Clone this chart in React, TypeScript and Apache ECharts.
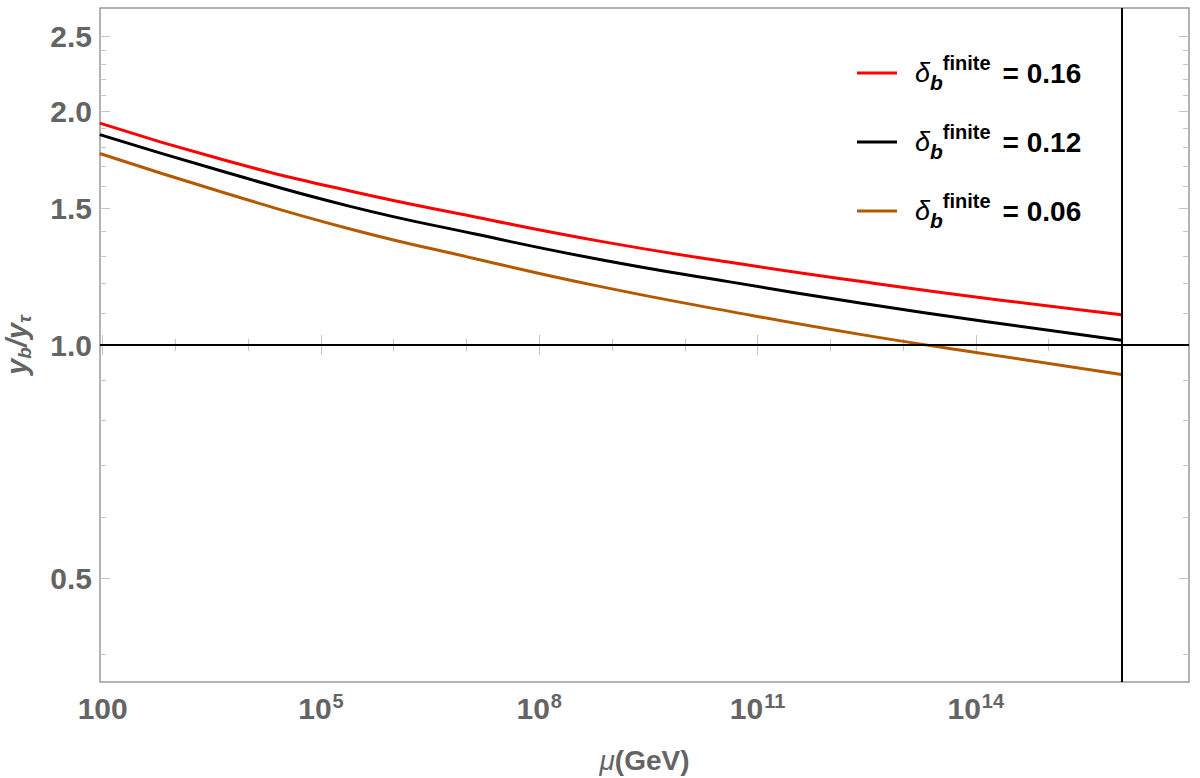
import React, { useEffect, useRef } from "react";
import * as echarts from "echarts";

// Renormalisation scale, log10(mu / GeV)
const LOG_MU = [1.96, 3.68, 5.4, 7.12, 8.83, 10.62, 12.41, 14.13, 16.0];

// y_b / y_tau for each finite threshold correction
const RATIO_016 = [1.932, 1.73, 1.579, 1.462, 1.361, 1.278, 1.208, 1.149, 1.094];
const RATIO_012 = [1.867, 1.671, 1.509, 1.39, 1.289, 1.206, 1.133, 1.072, 1.014];
const RATIO_006 = [1.765, 1.57, 1.411, 1.292, 1.19, 1.105, 1.032, 0.974, 0.916];

const SERIES_NAMES = ["0.16", "0.12", "0.06"];
const SERIES_COLORS = ["#ff0000", "#000000", "#b35900"];

// Plot range
const X_MIN = 1.963;
const X_MAX = 16.93;
const Y_MIN = 1 / Math.E;
const Y_MAX = Math.E;

// Tick positions
const X_MAJOR = [2, 5, 8, 11, 14];
const X_MINOR = [3, 4, 6, 7, 9, 10, 12, 13, 15, 16];
const Y_MAJOR = [0.5, 1.0, 1.5, 2.0, 2.5];
const Y_MINOR = [0.4, 0.6, 0.7, 0.8, 0.9, 1.1, 1.2, 1.3, 1.4, 1.6, 1.7, 1.8, 1.9, 2.1, 2.2, 2.3, 2.4];

// Reference lines
const UNIFICATION_LOG_MU = 16;
const UNITY_RATIO = 1;

const FONT = "'Liberation Sans', Arial, sans-serif";
const LABEL_GRAY = "#646464";
const TICK_GRAY = "#c4c4c4";
const FRAME_GRAY = "#9a9a9a";

const lg = (v: number) => Math.log10(v);

function xAxisDef(position: "top" | "bottom", ticks: number[], length: number, withLabels: boolean) {
  return {
    type: "value",
    position,
    min: X_MIN,
    max: X_MAX,
    axisLine: { show: false },
    splitLine: { show: false },
    axisTick: {
      show: true,
      inside: true,
      length,
      customValues: ticks,
      lineStyle: { color: TICK_GRAY, width: 1 },
    },
    axisLabel: withLabels
      ? {
          show: true,
          customValues: X_MAJOR,
          margin: 9,
          formatter: (v: number) => (Math.round(v) === 2 ? "{base|100}" : `{base|10}{sup|${Math.round(v)}}`),
          rich: {
            base: {
              fontFamily: FONT,
              fontSize: 30,
              fontWeight: "bold",
              color: LABEL_GRAY,
              lineHeight: 34,
            },
            sup: {
              fontFamily: FONT,
              fontSize: 20,
              fontWeight: "bold",
              color: LABEL_GRAY,
              lineHeight: 18,
              verticalAlign: "top",
              padding: [0, 0, 0, 1],
            },
          },
        }
      : { show: false },
  };
}

function yAxisDef(position: "left" | "right", ticks: number[], length: number, withLabels: boolean) {
  return {
    type: "value",
    position,
    min: lg(Y_MIN),
    max: lg(Y_MAX),
    axisLine: { show: false },
    splitLine: { show: false },
    axisTick: {
      show: true,
      inside: true,
      length,
      customValues: ticks.map(lg),
      lineStyle: { color: TICK_GRAY, width: 1 },
    },
    axisLabel: withLabels
      ? {
          show: true,
          customValues: Y_MAJOR.map(lg),
          margin: 8,
          fontFamily: FONT,
          fontSize: 30,
          fontWeight: "bold",
          color: LABEL_GRAY,
          formatter: (v: number) => Math.pow(10, v).toFixed(1),
        }
      : { show: false },
  };
}

export default function App() {
  const ref = useRef<HTMLDivElement>(null);

  useEffect(() => {
    if (!ref.current) return;
    const chart = echarts.init(ref.current, undefined, { renderer: "svg" });

    const ratios = [RATIO_016, RATIO_012, RATIO_006];

    const xMain: any = xAxisDef("bottom", X_MAJOR, 10, true);
    xMain.name = "{mu|μ}{p|(GeV)}";
    xMain.nameLocation = "middle";
    xMain.nameGap = 61;
    xMain.nameTextStyle = {
      rich: {
        mu: { fontFamily: FONT, fontSize: 28, fontStyle: "italic", color: LABEL_GRAY, lineHeight: 34 },
        p: { fontFamily: FONT, fontSize: 28, fontWeight: "bold", color: LABEL_GRAY, lineHeight: 34 },
      },
    };

    const yMain: any = yAxisDef("left", Y_MAJOR, 10, true);
    yMain.name = "{y|y}{sub|b}{y|/y}{sub|τ}";
    yMain.nameLocation = "middle";
    yMain.nameRotate = 90;
    yMain.nameGap = 66;
    yMain.nameTextStyle = {
      rich: {
        y: { fontFamily: FONT, fontSize: 29, fontStyle: "italic", fontWeight: "bold", color: LABEL_GRAY, lineHeight: 34 },
        sub: {
          fontFamily: FONT,
          fontSize: 19,
          fontStyle: "italic",
          fontWeight: "bold",
          color: LABEL_GRAY,
          lineHeight: 20,
          verticalAlign: "bottom",
        },
      },
    };

    const curveSeries = SERIES_NAMES.map((name, i) => ({
      name,
      type: "line",
      xAxisIndex: 0,
      yAxisIndex: 0,
      data: LOG_MU.map((m, j) => [m, lg(ratios[i][j])]),
      smooth: 0.5,
      showSymbol: false,
      symbol: "none",
      clip: true,
      lineStyle: { color: SERIES_COLORS[i], width: 3 },
      itemStyle: { color: SERIES_COLORS[i] },
      z: 3,
    }));

    const option: any = {
      animation: false,
      backgroundColor: "#ffffff",
      grid: {
        left: 100,
        right: 11,
        top: 8,
        bottom: 96,
        show: true,
        borderColor: FRAME_GRAY,
        borderWidth: 1.5,
        backgroundColor: "transparent",
        containLabel: false,
        outerBoundsMode: "none",
      },
      xAxis: [
        xMain,
        xAxisDef("bottom", X_MINOR, 6, false),
        xAxisDef("top", X_MAJOR, 10, false),
        xAxisDef("top", X_MINOR, 6, false),
      ],
      yAxis: [
        yMain,
        yAxisDef("left", Y_MINOR, 6, false),
        yAxisDef("right", Y_MAJOR, 10, false),
        yAxisDef("right", Y_MINOR, 6, false),
      ],
      legend: {
        data: SERIES_NAMES,
        orient: "vertical",
        left: 857,
        top: 53,
        padding: 0,
        itemWidth: 40,
        itemHeight: 3,
        itemGap: 29,
        icon: "rect",
        selectedMode: false,
        formatter: (name: string) => `{d|δ}{b|b}{s|finite}{v|= ${name}}`,
        textStyle: {
          rich: {
            d: {
              fontFamily: FONT,
              fontSize: 27,
              fontStyle: "italic",
              color: "#000",
              lineHeight: 40,
              padding: [0, 0, 0, 13],
            },
            b: {
              fontFamily: FONT,
              fontSize: 21,
              fontStyle: "italic",
              fontWeight: "bold",
              color: "#000",
              lineHeight: 28,
              verticalAlign: "bottom",
            },
            s: {
              fontFamily: FONT,
              fontSize: 20,
              fontWeight: "bold",
              color: "#000",
              lineHeight: 20,
              verticalAlign: "top",
            },
            v: {
              fontFamily: FONT,
              fontSize: 28,
              fontWeight: "bold",
              color: "#000",
              lineHeight: 40,
              padding: [0, 0, 0, 12],
            },
          },
        },
      },
      series: [
        {
          name: "reference-lines",
          type: "line",
          data: [],
          silent: true,
          z: 2,
          markLine: {
            silent: true,
            symbol: "none",
            label: { show: false },
            lineStyle: { color: "#000", width: 2, type: "solid" },
            data: [{ xAxis: UNIFICATION_LOG_MU }, { yAxis: lg(UNITY_RATIO) }],
          },
        },
        ...curveSeries,
      ],
    };

    chart.setOption(option);
    return () => chart.dispose();
  }, []);

  return (
    <div
      ref={ref}
      style={{ position: "fixed", left: 0, top: 0, width: 1200, height: 778, background: "#fff" }}
    />
  );
}
